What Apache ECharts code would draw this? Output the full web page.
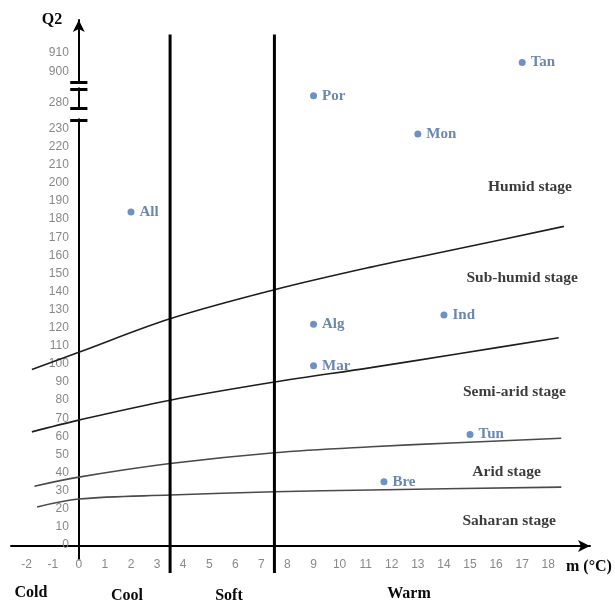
<!DOCTYPE html>
<html><head><meta charset="utf-8">
<script src="https://cdn.jsdelivr.net/npm/echarts@6/dist/echarts.min.js"></script>
<style>html,body{margin:0;padding:0;background:#fff}#c{width:615px;height:602px}</style>
</head><body><div id="c"></div>
<script>
// ---- data ----
const stations = ['All', 'Por', 'Mon', 'Tan', 'Alg', 'Ind', 'Mar', 'Tun', 'Bre'];
const mValues  = [2, 9, 13, 17, 9, 14, 9, 15, 11.7];
const q2Values = [184, 284, 227, 905, 122, 127, 99, 61, 35];

const xTickLabels = [-2, -1, 0, 1, 2, 3, 4, 5, 6, 7, 8, 9, 10, 11, 12, 13, 14, 15, 16, 17, 18];
const yTickLabels = [0, 10, 20, 30, 40, 50, 60, 70, 80, 90, 100, 110, 120, 130, 140, 150, 160, 170, 180, 190, 200, 210, 220, 230, 280, 900, 910];

const humidLimitM     = [-1.8, 0, 3.5, 7.5, 11.2, 14.5, 18.6];
const humidLimitQ2    = [97, 106.5, 125, 141, 153.5, 163.5, 176];
const subHumidLimitM  = [-1.8, 0, 3.5, 7.5, 11.2, 14.5, 18.4];
const subHumidLimitQ2 = [62.5, 69, 80, 90, 98, 105.5, 114.5];
const semiAridLimitM  = [-1.7, 0, 3.5, 7.5, 11.2, 14.5, 18.5];
const semiAridLimitQ2 = [32.5, 37.5, 45, 51, 54.3, 56.5, 59];
const aridLimitM      = [-1.6, 0, 3.5, 7.5, 11.2, 18.5];
const aridLimitQ2     = [21, 25.4, 27.6, 29.4, 30.4, 32];

const thermalLimits = [3.5, 7.5];
const stageNames  = ['Humid stage', 'Sub-humid stage', 'Semi-arid stage', 'Arid stage', 'Saharan stage'];
const winterNames = ['Cold', 'Cool', 'Soft', 'Warm'];

// ---- layout (broken Q2 axis) ----
function toDisplay(v) {
  if (v <= 232) return v;
  if (v < 600) return 244.2 + (v - 280);
  return 261.3 + (v - 900) * 1.05;
}
const labelByDisplay = {};
yTickLabels.forEach(v => { labelByDisplay[toDisplay(v).toFixed(3)] = String(v); });

const stagePos = [[17.3, 198], [17.0, 147.5], [16.7, 84.5], [16.4, 40.3], [16.5, 13.3]];
const winterPos = [[31, 593], [127, 596], [229, 596], [409, 594]];

const serif = '"Liberation Serif", "DejaVu Serif", serif';
const pointBlue = '#4a74b4';
const labelBlue = '#45699b';

function curve(ms, qs, color) {
  return {
    type: 'line', smooth: 0.35, symbol: 'none', silent: true, z: 3,
    lineStyle: { color: color, width: 1.6 },
    data: ms.map((m, i) => [m, toDisplay(qs[i])])
  };
}

const series = [
  curve(humidLimitM, humidLimitQ2, '#1e1e1e'),
  curve(subHumidLimitM, subHumidLimitQ2, '#1e1e1e'),
  curve(semiAridLimitM, semiAridLimitQ2, '#4a4a4a'),
  curve(aridLimitM, aridLimitQ2, '#4a4a4a')
];
thermalLimits.forEach(t => {
  series.push({
    type: 'line', symbol: 'none', silent: true, clip: false, z: 4,
    lineStyle: { color: '#000', width: 3 },
    data: [[t, -15.5], [t, 282]]
  });
});
// axis break marks
series.push({
  type: 'line', symbol: 'none', silent: true, z: 6, data: [],
  markLine: {
    silent: true, symbol: 'none', label: { show: false },
    data: [
      [{ coord: [0, 235.6], lineStyle: { color: '#fff', width: 4, type: 'solid' } }, { coord: [0, 240.6] }],
      [{ coord: [0, 252.7], lineStyle: { color: '#fff', width: 4, type: 'solid' } }, { coord: [0, 255.1] }],
      ...[234.8, 241.4, 252, 255.8].map(d => [
        { coord: [-0.33, d], lineStyle: { color: '#000', width: 3, type: 'solid' } },
        { coord: [0.33, d] }
      ])
    ]
  }
});
series.push({
  type: 'scatter', symbolSize: 7, z: 8,
  itemStyle: { color: pointBlue },
  label: {
    show: true, position: 'right', distance: 5, formatter: '{b}',
    color: labelBlue, fontFamily: serif, fontWeight: 'bold', fontSize: 15
  },
  data: stations.map((s, i) => ({ name: s, value: [mValues[i], toDisplay(q2Values[i])] }))
});
series.push({
  type: 'scatter', symbolSize: 0, silent: true, z: 7,
  itemStyle: { color: 'rgba(0,0,0,0)' },
  label: {
    show: true, position: 'inside', formatter: '{b}',
    color: '#0a0a0a', fontFamily: serif, fontWeight: 'bold', fontSize: 15.5
  },
  data: stageNames.map((s, i) => ({ name: s, value: stagePos[i] }))
});

const graphic = winterNames.map((w, i) => ({
  type: 'text', x: winterPos[i][0], y: winterPos[i][1], silent: true,
  style: { text: w, align: 'center', verticalAlign: 'middle',
           font: 'bold 16px ' + serif, fill: '#0a0a0a' }
}));
graphic.push({ type: 'text', x: 566, y: 567, silent: true,
  style: { text: 'm (°C)', align: 'left', verticalAlign: 'middle', font: 'bold 16px ' + serif, fill: '#0a0a0a' } });
graphic.push({ type: 'text', x: 52, y: 20, silent: true,
  style: { text: 'Q2', align: 'center', verticalAlign: 'middle', font: 'bold 16px ' + serif, fill: '#0a0a0a' } });

const chart = echarts.init(document.getElementById('c'), null, { renderer: 'canvas' });
chart.setOption({
  animation: false,
  backgroundColor: '#fff',
  grid: { left: 11, right: 25, top: 20, bottom: 42.5, containLabel: false, outerBoundsMode: 'none' },
  xAxis: {
    type: 'value', min: -2.6, max: 19.6, position: 'bottom', offset: -13.5,
    axisLine: { show: true, onZero: false, symbol: ['none', 'arrow'], symbolSize: [9, 12],
                lineStyle: { color: '#000', width: 2 } },
    axisTick: { show: false }, splitLine: { show: false },
    axisLabel: {
      customValues: xTickLabels, margin: 13, fontSize: 12, color: '#888',
      fontFamily: '"Liberation Sans", Arial, sans-serif', formatter: v => String(v)
    }
  },
  yAxis: {
    type: 'value', min: -8, max: 290, position: 'left', offset: -67.8,
    axisLine: { show: true, onZero: false, symbol: ['none', 'arrow'], symbolSize: [9, 12],
                lineStyle: { color: '#000', width: 2 } },
    axisTick: { show: false }, splitLine: { show: false },
    axisLabel: {
      customValues: yTickLabels.map(toDisplay), margin: 10, fontSize: 12, color: '#888',
      fontFamily: '"Liberation Sans", Arial, sans-serif',
      formatter: v => labelByDisplay[Number(v).toFixed(3)] || ''
    }
  },
  graphic: graphic,
  series: series
});
</script>
</body></html>
